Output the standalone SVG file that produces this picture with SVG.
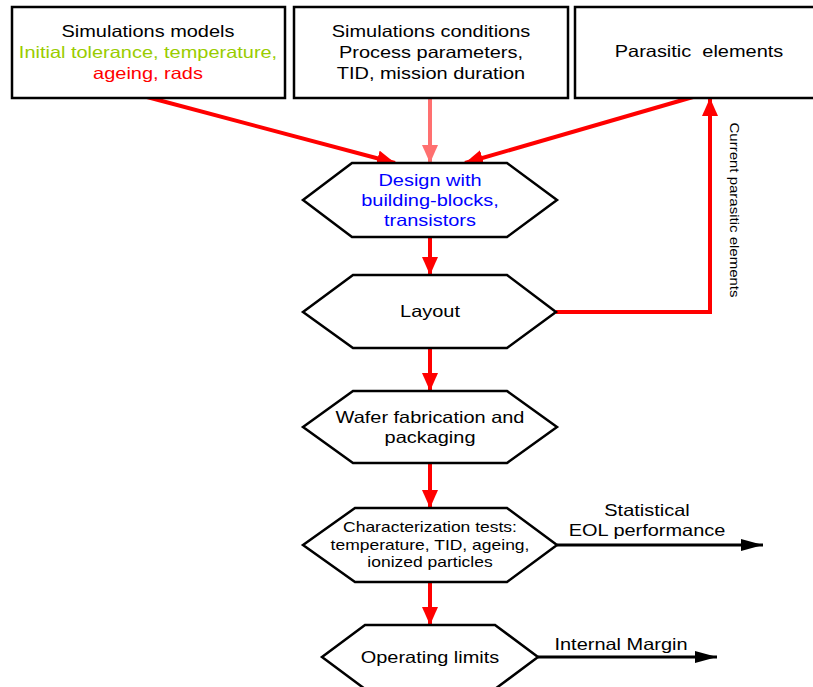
<svg xmlns="http://www.w3.org/2000/svg" width="813" height="687" viewBox="0 0 813 687">
<defs>
<style>
.box{fill:#fff;stroke:#000;stroke-width:2.5}
.hex{fill:#fff;stroke:#000;stroke-width:2.5;stroke-linejoin:miter}
.t{font-family:"Liberation Sans",Arial,sans-serif;font-size:16.5px;fill:#000;text-anchor:middle}
.s{font-size:14px}
.red{stroke:#ff0000;stroke-width:4;fill:none}
.pink{stroke:#ff7070;stroke-width:4;fill:none}
.blk{stroke:#000;stroke-width:3;fill:none}
</style>
<marker id="ar" markerUnits="userSpaceOnUse" markerWidth="20" markerHeight="18" refX="18" refY="8" orient="auto"><path d="M0,0 L18,8 L0,16 Z" fill="#ff0000"/></marker>
<marker id="ap" markerUnits="userSpaceOnUse" markerWidth="20" markerHeight="18" refX="18" refY="8" orient="auto"><path d="M0,0 L18,8 L0,16 Z" fill="#ff7070"/></marker>
<marker id="ab" markerUnits="userSpaceOnUse" markerWidth="24" markerHeight="14" refX="22" refY="6" orient="auto"><path d="M0,0 L22,6 L0,12 Z" fill="#000"/></marker>
</defs>
<rect width="813" height="687" fill="#fff"/>
<g id="connectors">
<line class="red" x1="147" y1="97" x2="395" y2="163" marker-end="url(#ar)"/>
<line class="pink" x1="430" y1="99" x2="430" y2="163" marker-end="url(#ap)"/>
<line class="red" x1="693" y1="97" x2="465" y2="163" marker-end="url(#ar)"/>
<line class="red" x1="430" y1="238" x2="430" y2="275" marker-end="url(#ar)"/>
<line class="red" x1="430" y1="349" x2="430" y2="391" marker-end="url(#ar)"/>
<line class="red" x1="430" y1="464" x2="430" y2="508" marker-end="url(#ar)"/>
<line class="red" x1="430" y1="583" x2="430" y2="625" marker-end="url(#ar)"/>
<polyline class="red" points="556,312 710,312 710,98" marker-end="url(#ar)"/>
<line class="blk" x1="557" y1="545" x2="763" y2="545" marker-end="url(#ab)"/>
<line class="blk" x1="538" y1="657" x2="717" y2="657" marker-end="url(#ab)"/>
<text class="t" style="font-size:12px" transform="translate(730,210) rotate(90) scale(1.25,1)">Current parasitic elements</text>
<text class="t" transform="translate(647,516) scale(1.21,1)">Statistical</text>
<text class="t" transform="translate(647,536) scale(1.21,1)">EOL performance</text>
<text class="t" transform="translate(621,650) scale(1.21,1)">Internal Margin</text>
</g>
<g id="box-models">
<rect class="box" x="12" y="7" width="273" height="91"/>
<text class="t" transform="translate(148,37) scale(1.21,1)">Simulations models</text>
<text class="t" transform="translate(148,58) scale(1.21,1)" style="fill:#99cc00">Initial tolerance, temperature,</text>
<text class="t" transform="translate(148,79) scale(1.21,1)" style="fill:#ff0000">ageing, rads</text>
</g>
<g id="box-conditions">
<rect class="box" x="294" y="7" width="274" height="91"/>
<text class="t" transform="translate(431,37) scale(1.21,1)">Simulations conditions</text>
<text class="t" transform="translate(431,58) scale(1.21,1)">Process parameters,</text>
<text class="t" transform="translate(431,79) scale(1.21,1)">TID, mission duration</text>
</g>
<g id="box-parasitic">
<rect class="box" x="575" y="7" width="250" height="91"/>
<text class="t" transform="translate(699,57) scale(1.21,1)" xml:space="preserve">Parasitic  elements</text>
</g>
<g id="hex-design">
<polygon class="hex" points="303,200 352,163 507,163 557,200 507,237 352,237"/>
<text class="t" transform="translate(430,186) scale(1.21,1)" style="fill:#0000ff">Design with</text>
<text class="t" transform="translate(430,206) scale(1.21,1)" style="fill:#0000ff">building-blocks,</text>
<text class="t" transform="translate(430,226) scale(1.21,1)" style="fill:#0000ff">transistors</text>
</g>
<g id="hex-layout">
<polygon class="hex" points="303,312 353,275 507,275 556,312 507,348 353,348"/>
<text class="t" transform="translate(430,317) scale(1.21,1)">Layout</text>
</g>
<g id="hex-wafer">
<polygon class="hex" points="303,427 353,391 507,391 557,427 507,463 353,463"/>
<text class="t" transform="translate(430,423) scale(1.21,1)">Wafer fabrication and</text>
<text class="t" transform="translate(430,443) scale(1.21,1)">packaging</text>
</g>
<g id="hex-char">
<polygon class="hex" points="303,545 355,508 507,508 557,545 507,582 355,582"/>
<text class="t s" transform="translate(430,532) scale(1.25,1)">Characterization tests:</text>
<text class="t s" transform="translate(430,550) scale(1.25,1)">temperature, TID, ageing,</text>
<text class="t s" transform="translate(430,567) scale(1.25,1)">ionized particles</text>
</g>
<g id="hex-operating">
<polygon class="hex" points="322,657 365,625 495,625 538,657 495,689 365,689"/>
<text class="t" transform="translate(430,663) scale(1.21,1)">Operating limits</text>
</g>
</svg>
